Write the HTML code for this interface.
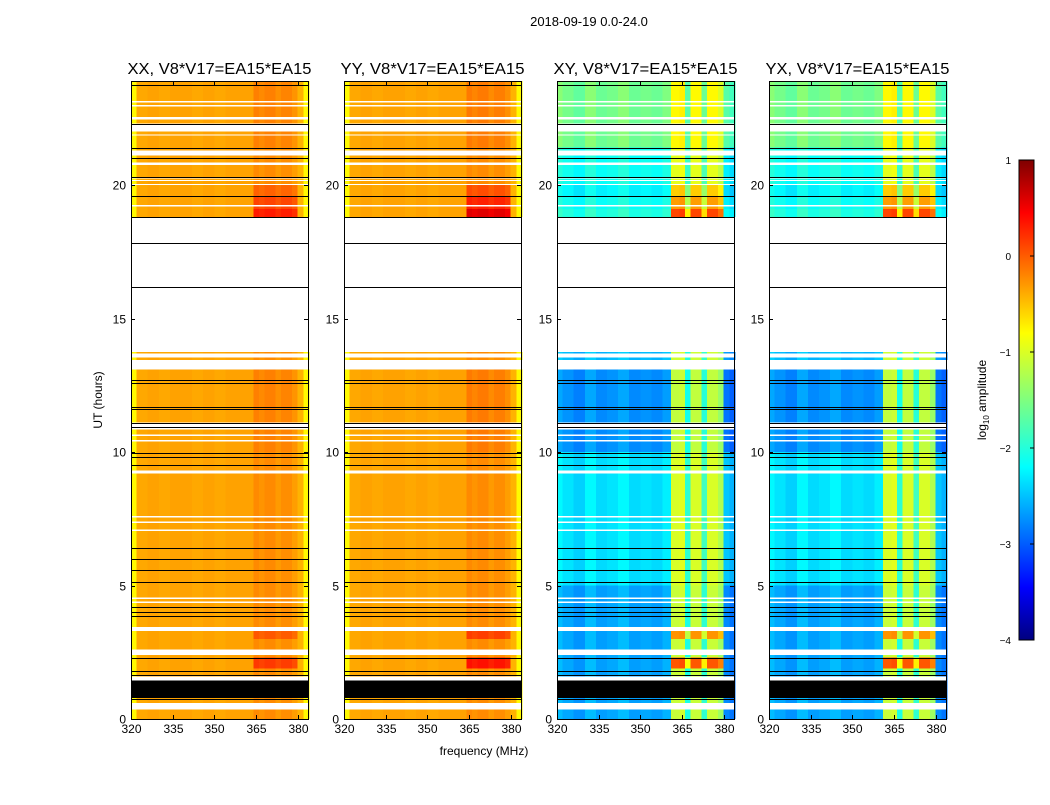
<!DOCTYPE html>
<html><head><meta charset="utf-8"><style>
body{margin:0;background:#fff;}
svg text{font-family:"Liberation Sans",sans-serif;}
</style></head><body>
<svg id="chart" width="1050" height="800" xmlns="http://www.w3.org/2000/svg">
<defs><linearGradient id="jet" x1="0" y1="1" x2="0" y2="0">
<stop offset="0" stop-color="#00007f"/><stop offset="0.11" stop-color="#0000ff"/><stop offset="0.36" stop-color="#00ffff"/>
<stop offset="0.5" stop-color="#7fff7f"/><stop offset="0.64" stop-color="#ffff00"/><stop offset="0.89" stop-color="#ff0000"/><stop offset="1" stop-color="#7f0000"/></linearGradient></defs>
<text x="589" y="26" font-size="13" text-anchor="middle">2018-09-19 0.0-24.0</text>
<text x="484" y="755" font-size="12" text-anchor="middle">frequency (MHz)</text>
<text transform="translate(102,400) rotate(-90)" font-size="12" text-anchor="middle">UT (hours)</text>
<g id="panels"></g>
<g>
<rect x="1019" y="160" width="15" height="480" fill="url(#jet)" stroke="#000"/>
<g id="cbticks"></g>
<text transform="translate(986,400) rotate(-90)" font-size="12" text-anchor="middle">log<tspan font-size="8" dy="3">10</tspan><tspan dy="-3"> amplitude</tspan></text>
</g>
</svg>
<script>
const panelTitles=["XX, V8*V17=EA15*EA15","YY, V8*V17=EA15*EA15","XY, V8*V17=EA15*EA15","YX, V8*V17=EA15*EA15"];
const panelIsCross=[0,0,1,1];
const panelBandGain=[1,1.5,1,1];
const chanStart=[320,322,326,330,334,338,342,346,350,354,358,361,364,366,368,372,374,378,380,382];
const chanEnd=[322,326,330,334,338,342,346,350,354,358,361,364,366,368,372,374,378,380,382,384];
const chanPar=[-0.85,-0.45,-0.42,-0.45,-0.42,-0.42,-0.45,-0.42,-0.45,-0.42,-0.42,-0.42,-0.3,-0.35,-0.3,-0.38,-0.32,-0.4,-0.5,-0.85];
const chanCross=[-2.45,-2.55,-2.65,-2.45,-2.6,-2.55,-2.45,-2.6,-2.55,-2.6,-2.5,-1.15,-1.1,-2.0,-1.15,-1.9,-1.15,-1.35,-2.7,-2.8];
const inBandPar=[0,0,0,0,0,0,0,0,0,0,0,0,1,1,1,1,1,1,0,0];
const inBandCross=[0,0,0,0,0,0,0,0,0,0,0,1,1,1,1,1,1,1,0,0];
const rowStart=[0,1.9,2.3,3.0,3.3,5,10,13.45,18.8,19.1,19.6,20.0,21.4];
const rowEnd=[1.9,2.3,3.0,3.3,5,10,13.1,13.75,19.1,19.6,20.0,21.4,23.9];
const rowCross=[0,0,0,0,0,0.3,-0.1,0.1,0.6,0.5,0.4,0.5,1.0];
const bandPar=[0,0.4,0,0.25,0,0,0.05,0,0.55,0.35,0.2,0,0.05];
const bandCross=[0,1.1,0,0.8,0,0,0,0,1.0,0.6,0.4,0,0];
const whiteStart=[0.35,1.45,2.4,3.3,4.35,4.5,7.05,7.35,7.55,9.2,10.4,10.6,10.85,13.1,13.55,13.78,19.2,20.0,20.15,20.25,20.75,21.1,21.85,22.0,22.45,22.95,23.1];
const whiteEnd=[0.6,1.6,2.6,3.45,4.4,4.55,7.1,7.4,7.6,9.3,10.45,10.65,11.1,13.45,13.7,18.8,19.25,20.05,20.2,20.3,20.85,21.3,21.9,22.3,22.55,23.0,23.15];
const blackStart=[0.78];
const blackEnd=[1.45];
const blackLines=[0.75,1.65,1.8,2.3,3.85,4.0,4.2,5.15,5.6,6.0,6.4,9.5,9.8,9.95,10.95,11.1,11.6,11.7,12.6,12.7,16.2,17.85,18.8,19.6,20.3,21.0,21.4,22.3,23.75];
const xTicks=[320,335,350,365,380];
const yTicks=[0,5,10,15,20];
const cbTicks=[1,0,-1,-2,-3,-4];

const NS="http://www.w3.org/2000/svg";
const panelLeft=[131,344,557,769], PW=177, PT=81, PB=719;
const fmin=320,fmax=383.7,hmin=0,hmax=23.9;
function jet(v){let t=(v+4)/5;t=Math.max(0,Math.min(1,t));
 const r=Math.max(0,Math.min(1,1.5-Math.abs(4*t-3))),g=Math.max(0,Math.min(1,1.5-Math.abs(4*t-2))),b=Math.max(0,Math.min(1,1.5-Math.abs(4*t-1)));
 return `rgb(${Math.round(r*255)},${Math.round(g*255)},${Math.round(b*255)})`;}
function mk(tag,attrs,parent){const e=document.createElementNS(NS,tag);for(const k in attrs)e.setAttribute(k,attrs[k]);parent.appendChild(e);return e;}
const root=document.getElementById('panels');
panelTitles.forEach((title,p)=>{
 const L=panelLeft[p];
 const xs=f=>L+(f-fmin)/(fmax-fmin)*PW;
 const ys=h=>PB-(h-hmin)/(hmax-hmin)*(PB-PT);
 const g=mk('g',{'shape-rendering':'crispEdges'},root);
 
 
 for(let r=0;r<rowStart.length;r++){
  for(let c=0;c<chanStart.length;c++){
   let v;
   if(panelIsCross[p]) v=chanCross[c]+rowCross[r]*(inBandCross[c]?0.3:1)+(inBandCross[c]?bandCross[r]*panelBandGain[p]:0);
   else v=chanPar[c]+(inBandPar[c]?bandPar[r]*panelBandGain[p]:0);
   const cell=mk('rect',{x:xs(chanStart[c]),y:ys(rowEnd[r]),width:xs(chanEnd[c])-xs(chanStart[c])+0.5,height:ys(rowStart[r])-ys(rowEnd[r]),fill:jet(v)},g);
   
   
  }
 }
 for(let i=0;i<whiteStart.length;i++){const w=mk('rect',{x:L,y:ys(whiteEnd[i]),width:PW,height:ys(whiteStart[i])-ys(whiteEnd[i]),fill:'#fff'},g);
  }
 for(let i=0;i<blackStart.length;i++){const b=mk('rect',{x:L,y:ys(blackEnd[i]),width:PW,height:ys(blackStart[i])-ys(blackEnd[i]),fill:'#000'},g);
  }
 blackLines.forEach(h=>{const l=mk('line',{x1:L,x2:L+PW,y1:Math.round(ys(h))+0.5,y2:Math.round(ys(h))+0.5,stroke:'#000','stroke-width':1.3},g);
  });
 const fr=mk('rect',{x:L+0.5,y:PT+0.5,width:PW,height:PB-PT,fill:'none',stroke:'#000'},g);
 
 const t=mk('text',{x:L+PW/2,y:PT-7,'font-size':16,'text-anchor':'middle',textLength:184,lengthAdjust:'spacingAndGlyphs'},root);t.textContent=title;
 
 xTicks.forEach(f=>{const x=Math.round(xs(f))+0.5;
  mk('line',{x1:x,x2:x,y1:PB,y2:PB-4,stroke:'#000'},root);mk('line',{x1:x,x2:x,y1:PT,y2:PT+4,stroke:'#000'},root);
  const tx=mk('text',{x:x,y:PB+14,'font-size':12,'text-anchor':'middle'},root);tx.textContent=f;
  });
 yTicks.forEach(h=>{const y=Math.round(ys(h))+0.5;
  mk('line',{x1:L,x2:L+4,y1:y,y2:y,stroke:'#000'},root);mk('line',{x1:L+PW,x2:L+PW-4,y1:y,y2:y,stroke:'#000'},root);
  const ty=mk('text',{x:L-5,y:y+4,'font-size':12,'text-anchor':'end'},root);ty.textContent=h;
  });
});
const cbg=document.getElementById('cbticks');
cbTicks.forEach(v=>{const y=160+(1-v)/5*480;
 mk('line',{x1:1034,x2:1030,y1:y,y2:y,stroke:'#000'},cbg);
 const t=mk('text',{x:1011,y:y+4,'font-size':10,'text-anchor':'end'},cbg);t.textContent=v<0?'\u2212'+(-v):v;
 });
</script>
</body></html>
